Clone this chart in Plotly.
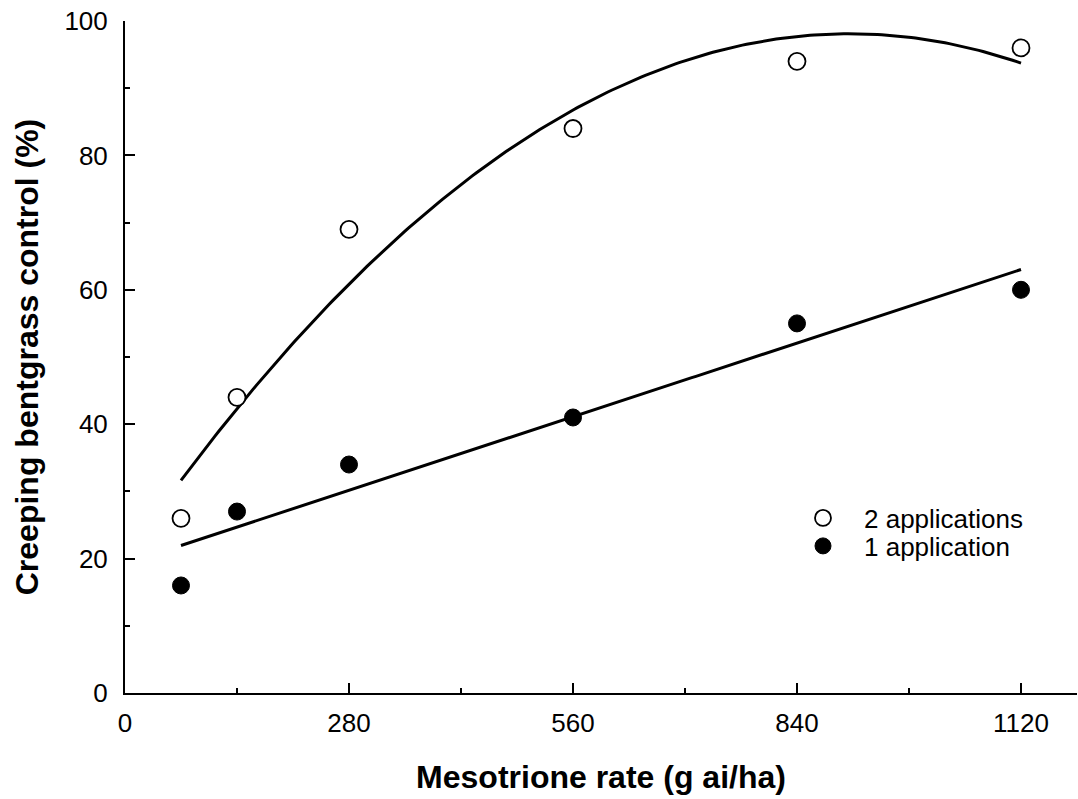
import numpy as np
import plotly.graph_objects as go

rates = [70, 140, 280, 560, 840, 1120]
two_app = [26, 44, 69, 84, 94, 96]
one_app = [16, 27, 34, 41, 55, 60]

x_ticks = [0, 280, 560, 840, 1120]
y_ticks = [0, 20, 40, 60, 80, 100]

# regression curves fitted to the data
xf = np.linspace(min(rates), max(rates), 200)
c2 = np.polyfit(rates, two_app, 2)
c1 = np.polyfit(rates, one_app, 1)
y2 = np.polyval(c2, xf)
y1 = np.polyval(c1, xf)

FONT = "Liberation Sans, Arial, sans-serif"

fig = go.Figure()
fig.add_trace(go.Scatter(x=xf, y=y2, mode="lines", line=dict(color="black", width=3),
                         showlegend=False, hoverinfo="skip"))
fig.add_trace(go.Scatter(x=xf, y=y1, mode="lines", line=dict(color="black", width=3),
                         showlegend=False, hoverinfo="skip"))
fig.add_trace(go.Scatter(x=rates, y=two_app, mode="markers", name="2 applications",
                         legend="legend",
                         marker=dict(symbol="circle", size=17, color="white",
                                     line=dict(color="black", width=1.8))))
fig.add_trace(go.Scatter(x=rates, y=one_app, mode="markers", name="1 application",
                         legend="legend2",
                         marker=dict(symbol="circle", size=17, color="black",
                                     line=dict(color="black", width=1))))

leg_common = dict(xanchor="left", yanchor="middle", bgcolor="rgba(0,0,0,0)",
                  font=dict(size=26), itemsizing="trace", itemwidth=72)
fig.update_layout(
    width=1078, height=799,
    margin=dict(l=125, r=1, t=21, b=106),
    plot_bgcolor="white", paper_bgcolor="white",
    font=dict(family=FONT, size=26, color="black"),
    legend=dict(x=(782 - 125) / 952, y=(693 - 518) / 672, **leg_common),
    legend2=dict(x=(782 - 125) / 952, y=(693 - 546) / 672, **leg_common),
)
fig.update_xaxes(
    range=[0, 1190], showgrid=False, zeroline=False,
    showline=True, linecolor="black", linewidth=2,
    ticks="inside", ticklen=10, tickwidth=2, tickcolor="black",
    tickvals=x_ticks, ticktext=[str(v) for v in x_ticks],
    minor=dict(tickvals=[140, 420, 700, 980], ticks="inside", ticklen=5, tickwidth=2, tickcolor="black"),
    ticklabelstandoff=6,
    title=dict(text="<b>Mesotrione rate (g ai/ha)</b>", font=dict(size=32), standoff=28),
)
fig.update_yaxes(
    range=[0, 100], showgrid=False, zeroline=False,
    showline=True, linecolor="black", linewidth=2,
    ticks="inside", ticklen=10, tickwidth=2, tickcolor="black",
    tickvals=y_ticks, ticktext=[str(v) for v in y_ticks],
    minor=dict(tickvals=[10, 30, 50, 70, 90], ticks="inside", ticklen=5, tickwidth=2, tickcolor="black"),
    ticklabelstandoff=10,
    title=dict(text="<b>Creeping bentgrass control (%)</b>", font=dict(size=32), standoff=16),
)

fig.write_html("out.html", config={"displayModeBar": False},
               post_script="document.body.style.margin='0';document.body.style.padding='0';window.dispatchEvent(new Event('resize'));")
